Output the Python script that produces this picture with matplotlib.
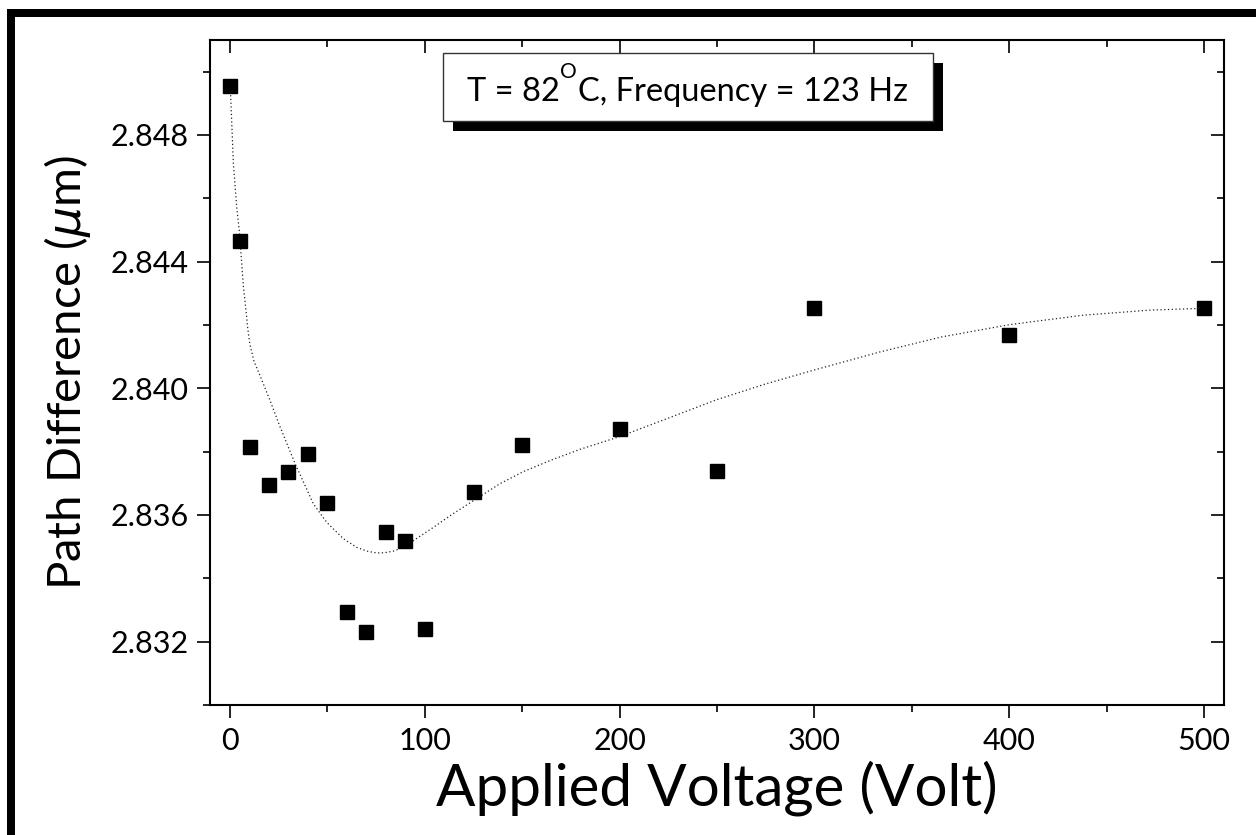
"""Path difference vs applied voltage at T = 82 C."""

import matplotlib

matplotlib.use("Agg")

import matplotlib.pyplot as plt
from matplotlib.patches import Rectangle
from matplotlib.ticker import FormatStrFormatter, MultipleLocator

plt.rcParams["font.family"] = ["Lato", "DejaVu Sans"]
plt.rcParams["mathtext.fontset"] = "dejavusans"

# measured points
voltage = [0, 5, 10, 20, 30, 40, 50, 60, 70, 80, 90, 100, 125, 150, 200, 250, 300, 400, 500]
path_diff = [2.84955, 2.84465, 2.83816, 2.83696, 2.83737, 2.83794, 2.83639, 2.83294, 2.83230,
             2.83547, 2.83518, 2.83240, 2.83673, 2.83822, 2.83873, 2.83740, 2.84253, 2.84167, 2.84253]

# fitted curve
fit_x = [0.3, 1.7, 3.4, 4.8, 6.8, 8.2, 9.1, 10.2, 12.3, 15.4, 20.5, 25.7, 33.4, 42.8, 49.6, 58.2,
         65.0, 70.2, 75.3, 79.6, 83.8, 87.3, 94.1, 104.4, 114.0, 124.9, 138.6, 150.6, 164.3, 180.0,
         200.2, 225.0, 249.8, 275.0, 299.4, 333.7, 365.0, 400.1, 438.0, 472.3, 496.3]
fit_y = [2.84926, 2.84710, 2.84573, 2.84494, 2.84325, 2.84245, 2.84188, 2.84138, 2.84085, 2.84040,
         2.83962, 2.83878, 2.83762, 2.83635, 2.83577, 2.83525, 2.83498, 2.83486, 2.83480, 2.83481,
         2.83486, 2.83494, 2.83519, 2.83561, 2.83602, 2.83645, 2.83699, 2.83737, 2.83772, 2.83808,
         2.83848, 2.83906, 2.83964, 2.84014, 2.84057, 2.84115, 2.84162, 2.84201, 2.84231, 2.84247,
         2.84252]

W, H = 1256, 835
fig = plt.figure(figsize=(W / 100, H / 100), dpi=100)
ax = fig.add_axes([210 / W, 1 - 705 / H, (1224 - 210) / W, (705 - 40) / H])

ax.plot(fit_x, fit_y, color="#222222", lw=0.9, ls=(0, (1, 2)), zorder=2)
ax.plot(voltage, path_diff, ls="none", marker="s", ms=9.5, color="black", zorder=3)

ax.set_xlim(-10.3, 510.3)
ax.set_ylim(2.830, 2.851)
ax.xaxis.set_major_locator(MultipleLocator(100))
ax.xaxis.set_minor_locator(MultipleLocator(50))
ax.yaxis.set_major_locator(MultipleLocator(0.004))
ax.yaxis.set_minor_locator(MultipleLocator(0.002))
ax.yaxis.set_major_formatter(FormatStrFormatter("%.3f"))

for s in ax.spines.values():
    s.set_linewidth(1.5)
ax.tick_params(which="both", labelsize=22, width=1.2, pad=6, direction="out",
               top=True, right=True)
ax.tick_params(which="major", length=9.5)
ax.tick_params(which="minor", length=5)
# top and right ticks point inward
for t in ax.xaxis.get_major_ticks() + ax.xaxis.get_minor_ticks():
    t.tick2line.set_marker(3)
for t in ax.yaxis.get_major_ticks() + ax.yaxis.get_minor_ticks():
    t.tick2line.set_marker(0)

ax.set_xlabel("Applied Voltage (Volt)", fontsize=42, labelpad=4)
ax.set_ylabel(r"Path Difference ($\mu$m)", fontsize=34)
ax.yaxis.set_label_coords(-0.115, 0.5)


def px_rect(x0, y0, x1, y1, **kw):
    fig.patches.append(Rectangle((x0 / W, 1 - y1 / H), (x1 - x0) / W, (y1 - y0) / H,
                                 transform=fig.transFigure, **kw))


# page frame (left and top bars)
px_rect(7, 9, 15, H, color="black", lw=0)
px_rect(7, 9, W, 17, color="black", lw=0)

# label box with drop shadow
px_rect(453, 63, 943, 131, color="black", lw=0, zorder=5)
px_rect(443, 53, 933, 121, facecolor="white", edgecolor="#333333", lw=1.0, zorder=6)

# box text in pieces so the superscript O sits high and small
renderer = fig.canvas.get_renderer()
base_y = 1 - 101 / H
x = 467
for txt, size, dy in [("T = 82", 23.5, 0), ("O", 15, 23), ("C, Frequency = 123 Hz", 23.5, 0)]:
    t = fig.text(x / W, base_y + dy / H, txt, fontsize=size, ha="left", va="baseline", zorder=7)
    x += t.get_window_extent(renderer).width + (1 if txt == "O" else 0)

fig.savefig("out.png", dpi=100)
